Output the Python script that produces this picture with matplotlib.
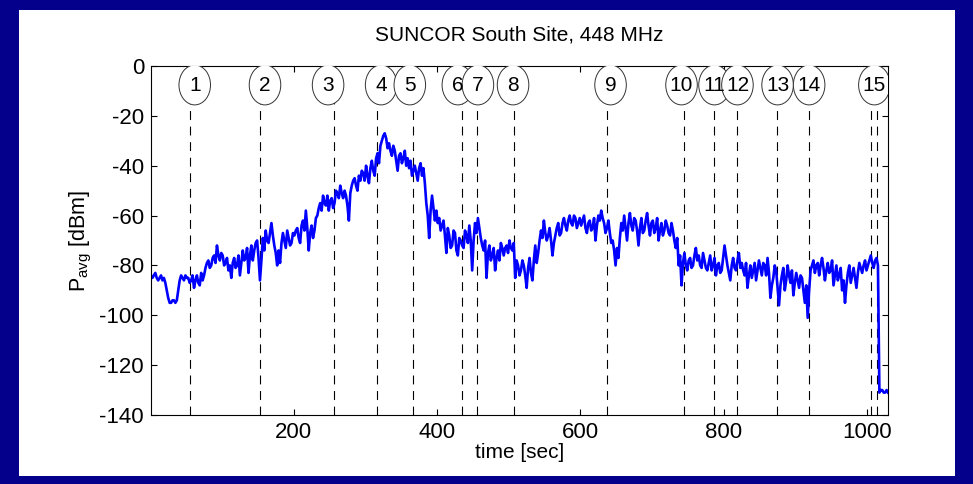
import numpy as np
import matplotlib
matplotlib.use("Agg")
import matplotlib.pyplot as plt
from matplotlib.patches import Ellipse, Rectangle

plt.rcParams["font.family"] = ["Liberation Sans", "DejaVu Sans"]
plt.rcParams["mathtext.fontset"] = "custom"
plt.rcParams["mathtext.rm"] = "Liberation Sans"
plt.rcParams["axes.unicode_minus"] = False

# ── 数据：每 4 秒一个读数，外加中间时刻的读数 ─────────────
t_even = np.arange(1, 1030, 4)
p_even = [
    -84, -84, -85, -85, -86, -87, -93, -95, -94, -94,
    -86, -85, -84, -85, -86, -89, -84, -88, -86, -81,
    -78, -80, -76, -72, -78, -76, -79, -82, -85, -77,
    -80, -84, -74, -77, -83, -72, -74, -70, -86, -69,
    -66, -71, -63, -72, -80, -79, -67, -73, -69, -71,
    -68, -65, -71, -62, -58, -74, -64, -66, -60, -55,
    -52, -56, -58, -53, -55, -51, -48, -53, -52, -62,
    -48, -45, -50, -46, -43, -40, -47, -38, -44, -35,
    -32, -28, -29, -31, -36, -34, -42, -35, -37, -40,
    -41, -44, -40, -46, -39, -41, -55, -69, -52, -62,
    -63, -66, -62, -75, -68, -72, -67, -76, -70, -73,
    -68, -64, -82, -63, -61, -69, -74, -85, -72, -76,
    -82, -74, -71, -76, -72, -70, -74, -85, -80, -82,
    -80, -89, -77, -86, -72, -75, -66, -62, -70, -65,
    -76, -68, -63, -67, -61, -66, -60, -64, -61, -63,
    -64, -60, -67, -62, -65, -70, -60, -58, -63, -65,
    -67, -70, -80, -77, -63, -60, -70, -59, -66, -62,
    -72, -61, -66, -59, -68, -62, -65, -70, -63, -66,
    -64, -68, -66, -73, -80, -88, -75, -82, -77, -80,
    -73, -76, -81, -78, -82, -76, -80, -84, -79, -82,
    -72, -80, -86, -77, -82, -75, -79, -84, -89, -80,
    -82, -86, -78, -84, -80, -77, -93, -85, -82, -96,
    -84, -90, -80, -87, -92, -83, -89, -85, -95, -101,
    -82, -78, -80, -84, -77, -86, -79, -82, -88, -80,
    -84, -90, -95, -83, -87, -81, -89, -79, -83, -78,
    -80, -76, -81, -77, -131, -130, -131, -131,
]

t_odd = np.arange(3, 1028, 4)
p_odd = [
    -85, -83, -86, -84, -85, -90, -95, -94, -95, -90,
    -84, -86, -85, -87, -84, -86, -87, -83, -84, -79,
    -81, -77, -79, -76, -75, -80, -77, -80, -79, -81,
    -76, -79, -78, -73, -76, -78, -71, -77, -78, -74,
    -70, -67, -68, -75, -74, -71, -70, -66, -72, -67,
    -66, -69, -64, -66, -65, -67, -69, -61, -57, -58,
    -55, -52, -54, -57, -50, -53, -51, -50, -56, -51,
    -46, -48, -44, -42, -46, -44, -41, -42, -37, -39,
    -30, -27, -33, -34, -32, -38, -36, -39, -34, -37,
    -38, -42, -43, -41, -44, -47, -60, -58, -57, -58,
    -61, -64, -68, -65, -73, -66, -74, -69, -72, -66,
    -71, -70, -70, -67, -65, -72, -70, -75, -78, -73,
    -77, -78, -73, -73, -75, -73, -71, -78, -84, -78,
    -84, -81, -83, -78, -79, -70, -69, -67, -68, -70,
    -71, -65, -68, -63, -64, -62, -63, -60, -65, -61,
    -62, -65, -63, -66, -61, -64, -62, -61, -67, -62,
    -71, -74, -73, -69, -66, -65, -63, -64, -61, -66,
    -65, -67, -62, -64, -63, -67, -61, -66, -68, -62,
    -67, -63, -70, -69, -76, -79, -80, -78, -81, -76,
    -78, -80, -75, -81, -79, -82, -77, -80, -83, -77,
    -76, -83, -80, -81, -78, -81, -82, -79, -84, -85,
    -79, -82, -81, -79, -84, -83, -88, -80, -89, -88,
    -81, -86, -84, -82, -87, -86, -84, -90, -88, -90,
    -80, -83, -79, -80, -81, -82, -83, -78, -84, -86,
    -81, -86, -88, -80, -84, -85, -83, -81, -80, -82,
    -78, -79, -78, -80, -130, -131, -130,
]

event_t = [55, 153, 256, 316, 367, 435, 456, 508, 637, 745,
           786, 819, 874, 919, 1005, 1014]

label_t = [62, 160, 248, 322, 362, 429, 457, 506, 642, 741,
           787, 819, 875, 919, 1010]
label_txt = [str(i) for i in range(1, 16)]

t_all = np.concatenate([t_even, t_odd])
p_all = np.concatenate([p_even, p_odd])
order = np.argsort(t_all)
t_all, p_all = t_all[order], p_all[order]

# ── 绘图 ─────────────────────────────────────────────
fig = plt.figure(figsize=(9.73, 4.84), dpi=100)
fig.patch.set_facecolor("#04008C")
fig.patches.append(Rectangle((19 / 973, 8 / 484), 936 / 973, 466 / 484,
                             transform=fig.transFigure, facecolor="white",
                             edgecolor="none", zorder=-10))

ax = fig.add_axes([151 / 973, 69 / 484, 737 / 973, 349 / 484])
ax.set_zorder(5)
ax.vlines(event_t, -140, 0, colors="k", linewidth=0.8,
          linestyles=(0, (8, 6)), zorder=1)
ax.plot(t_all, p_all, color="#0000FF", linewidth=1.9, zorder=2)

for x, s in zip(label_t, label_txt):
    ax.add_patch(Ellipse((x, -7.6), 44, 16, facecolor="white",
                         edgecolor="#333333", linewidth=0.7, zorder=3))
    ax.text(x, -7.8, s, ha="center", va="center", fontsize=15, zorder=4)

ax.set_xlim(1, 1029)
ax.set_ylim(-140, 0)
ax.set_xticks([200, 400, 600, 800, 1000])
ax.set_yticks(range(-140, 1, 20))
ax.tick_params(direction="in", top=True, right=True, length=4,
               width=0.8, labelsize=16, pad=5)
for sp in ax.spines.values():
    sp.set_linewidth(0.8)

ax.set_xlabel("time [sec]", fontsize=15, labelpad=0)
ax.set_ylabel(r"P$_{\rm avg}$ [dBm]", fontsize=15.5, labelpad=4)
fig.text(519 / 973, 1 - 35 / 484, "SUNCOR South Site, 448 MHz",
         ha="center", va="center", fontsize=15)

fig.savefig("out.png", dpi=100, facecolor=fig.get_facecolor())
